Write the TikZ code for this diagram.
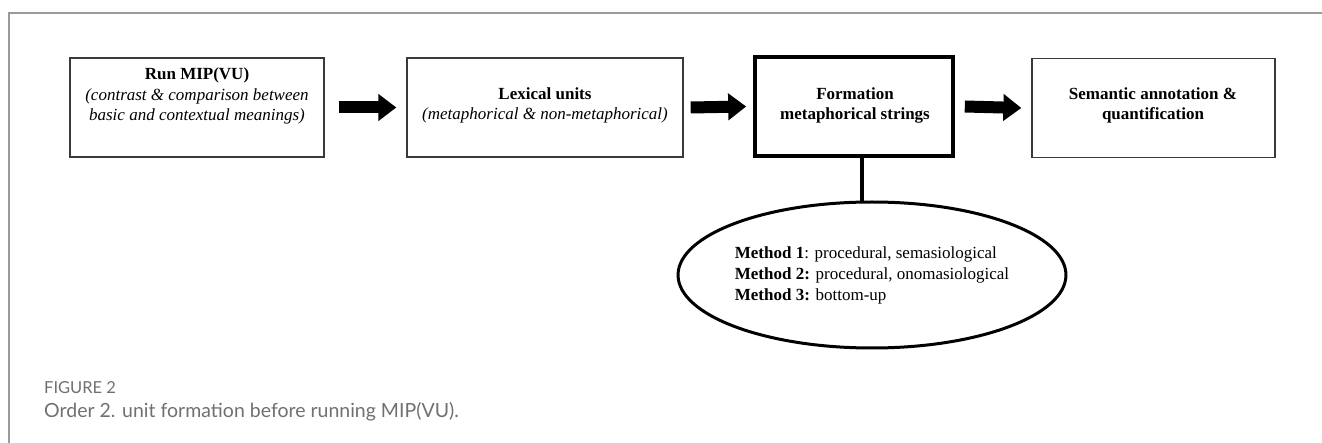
\documentclass[tikz,border=0pt]{standalone}
\usepackage{fontspec}
\setmainfont{Liberation Serif}
\newfontfamily\capfont{Lato}
\usetikzlibrary{arrows.meta,shapes.geometric}
\definecolor{framegray}{HTML}{9A9A9A}
\definecolor{capgray}{HTML}{707070}
\definecolor{boxgray}{HTML}{3A3A3A}
\begin{document}
\begin{tikzpicture}[x=1pt,y=-1pt,
	stagebox/.style={draw=boxgray,line width=1.3pt,minimum width=#1,minimum height=99pt,inner sep=0pt},
	keybox/.style={draw=black,line width=3.6pt,minimum width=#1,minimum height=99pt,inner sep=0pt},
	boxtext/.style={align=center,inner sep=0pt,font=\fontsize{17}{20.5}\selectfont},
	fatarrow/.style={line width=12pt,-{Triangle[length=18pt,width=26pt]}},
	methodring/.style={ellipse,draw=black,line width=3pt,minimum width=314pt,minimum height=146pt,inner sep=0pt,align=left,font=\fontsize{17}{21}\selectfont}]
	\useasboundingbox (0,0) rectangle (1322,443);
	\draw [framegray,line width=1.4pt] (9,443) -- (9,13) -- (1322,13);
	\node [stagebox=254pt] (run) at (197,107.5) {};
	\node [boxtext] (runtext) at (197,96) {\textbf{Run MIP(VU)}\\\textit{(contrast \& comparison between}\\\textit{basic and contextual meanings)}};
	\node [stagebox=276pt] (lex) at (545,107.5) {};
	\node [boxtext] (lextext) at (545,105.5) {\textbf{Lexical units}\\\textit{(metaphorical \& non-metaphorical)}};
	\node [keybox=198pt] (form) at (854,106.5) {};
	\node [boxtext] (formtext) at (855,105.5) {\textbf{Formation}\\\textbf{metaphorical strings}};
	\node [stagebox=243pt] (sem) at (1153.5,108) {};
	\node [boxtext] (semtext) at (1153,105.5) {\textbf{Semantic annotation \&}\\\textbf{quantification}};
	\draw [fatarrow] ([xshift=14pt]run.east) -- ([xshift=-10pt]lex.west);
	\draw [fatarrow] ([xshift=7pt]lex.east) -- ([xshift=-7pt]form.west);
	\draw [fatarrow] ([xshift=10pt]form.east) -- ([xshift=-10pt]sem.west);
	\node [methodring] (methods) at (872,275) {\textbf{Method 1}: procedural, semasiological\\\textbf{Method 2:} procedural, onomasiological\\\textbf{Method 3:} bottom-up};
	\draw [line width=3.5pt] ([xshift=8pt]form.south) -- ([xshift=8pt,yshift=-1pt]form.south |- methods.north);
	\node [anchor=west,inner sep=0pt,text=capgray,font=\capfont\fontsize{16.5}{18}\selectfont] (fignum) at (44,388) {FIGURE 2};
	\node [anchor=west,inner sep=0pt,text=capgray,font=\capfont\fontsize{19.5}{22}\selectfont] (caption) at (44,412) {Order 2. unit formation before running MIP(VU).};
\end{tikzpicture}
\end{document}
